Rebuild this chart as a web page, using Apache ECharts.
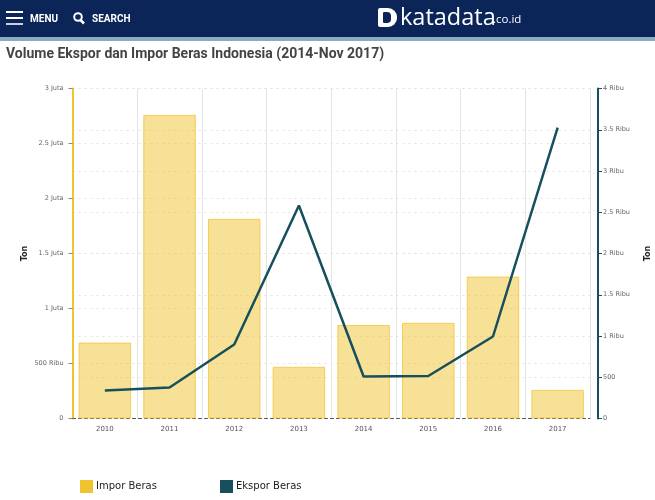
<!DOCTYPE html>
<html>
<head>
<meta charset="utf-8">
<script src="https://cdn.jsdelivr.net/npm/echarts@6/dist/echarts.min.js"></script>
<style>html,body{margin:0;padding:0;background:#fff}#c{width:655px;height:500px}</style>
</head>
<body>
<div id="c"></div>
<script>
const categories = ['2010','2011','2012','2013','2014','2015','2016','2017'];
const imporBeras = [690000,2760000,1815000,470000,850000,870000,1290000,260000];
const eksporBeras = [340,375,897,2582,509,515,994,3527];
const titleText = 'Volume Ekspor dan Impor Beras Indonesia (2014-Nov 2017)';
const seriesNames = ['Impor Beras','Ekspor Beras'];

function fmt(v){
  if(v===0) return '0';
  if(v>=1e6) return (v/1e6)+' Juta';
  if(v>=1e3) return (v/1e3)+' Ribu';
  return String(v);
}
const chart = echarts.init(document.getElementById('c'),null,{renderer:'canvas'});
const NAVY='#0b2559', GOLD='#f0c330', TEAL='#17505c';
const FF='"DejaVu Sans"';
const dash={color:'#e2e2e2',width:1,type:[2,4]};
const legendText={fontFamily:FF,fontSize:10,color:'#222',padding:[5,0,0,-2]};
chart.setOption({
  animation:false,
  backgroundColor:'#fff',
  grid:{left:72.5,right:65,top:88.5,bottom:81.5,containLabel:false,outerBoundsMode:'none'},
  legend:[
    {data:[{name:seriesNames[0],itemStyle:{color:GOLD,borderWidth:0,opacity:1}}],left:80,top:480,padding:0,itemWidth:13,itemHeight:13,icon:'rect',itemGap:4,textStyle:legendText},
    {data:[{name:seriesNames[1],itemStyle:{color:TEAL,borderWidth:0,opacity:1}}],left:220,top:480,padding:0,itemWidth:13,itemHeight:13,icon:'rect',itemGap:4,textStyle:legendText}
  ],
  xAxis:{type:'category',data:categories,boundaryGap:true,
    axisLine:{lineStyle:{color:'#555',width:1,type:[3,3]}},
    axisTick:{show:false},
    axisLabel:{fontFamily:FF,fontSize:7,color:'#555',margin:7},
    splitLine:{show:true,lineStyle:{color:'#e4e4e4',width:1}}
  },
  yAxis:[
    {type:'value',min:0,max:3000000,interval:500000,name:'Ton',nameLocation:'middle',nameGap:44,nameMoveOverlap:false,
     nameTextStyle:{fontFamily:FF,fontSize:8,fontWeight:'bold',color:'#222'},
     axisLine:{show:true,lineStyle:{color:GOLD,width:2}},
     axisTick:{show:true,length:4,lineStyle:{color:'#888',width:1}},
     axisLabel:{fontFamily:FF,fontSize:6.5,color:'#666',margin:9,formatter:fmt},
     splitLine:{show:true,lineStyle:dash}},
    {type:'value',min:0,max:4000,interval:500,position:'right',offset:8,name:'Ton',nameLocation:'middle',nameGap:46,nameMoveOverlap:false,
     nameTextStyle:{fontFamily:FF,fontSize:8,fontWeight:'bold',color:'#222'},
     axisLine:{show:true,lineStyle:{color:TEAL,width:2}},
     axisTick:{show:true,length:4,lineStyle:{color:TEAL,width:1}},
     axisLabel:{fontFamily:FF,fontSize:6.5,color:'#666',margin:5,formatter:fmt},
     splitLine:{show:true,lineStyle:dash}}
  ],
  series:[
    {name:seriesNames[0],type:'bar',yAxisIndex:0,data:imporBeras,barWidth:52.5,
     itemStyle:{color:'rgba(240,195,48,0.5)',borderColor:'rgba(240,195,48,0.75)',borderWidth:1},z:2},
    {name:seriesNames[1],type:'line',yAxisIndex:1,data:eksporBeras,showSymbol:false,symbol:'none',
     itemStyle:{color:TEAL},lineStyle:{color:TEAL,width:2.5},z:5}
  ],
  graphic:[
    {type:'rect',left:0,top:0,shape:{width:655,height:37},style:{fill:NAVY},silent:true},
    {type:'rect',left:0,top:37,shape:{width:655,height:4},style:{fill:'#8aacbf'},silent:true},
    {type:'rect',left:6,top:11,shape:{width:17,height:2},style:{fill:'#fff'}},
    {type:'rect',left:6,top:17,shape:{width:17,height:2},style:{fill:'#fff'}},
    {type:'rect',left:6,top:23,shape:{width:17,height:2},style:{fill:'#c8d0dd'}},
    {type:'text',left:30,top:14,style:{text:'MENU',font:'bold 10px Roboto',fill:'#fff'}},
    {type:'circle',x:78,y:17,shape:{cx:0,cy:0,r:3.8},style:{fill:'none',stroke:'#fff',lineWidth:2}},
    {type:'line',x:0,y:0,shape:{x1:80.5,y1:20,x2:84,y2:23.5},style:{stroke:'#fff',lineWidth:2.5}},
    {type:'text',left:92,top:14,style:{text:'SEARCH',font:'bold 10px Roboto',fill:'#fff'}},
    {type:'rect',left:378,top:8,shape:{width:19,height:19,r:[2,9,9,2]},style:{fill:'#fff'}},
    {type:'rect',left:383,top:12,shape:{width:8,height:11,r:[1,4,4,1]},style:{fill:NAVY}},
    {type:'text',left:400,top:6,style:{text:'katadata',font:'23.5px "Open Sans"',fill:'#fff'}},
    {type:'text',left:493,top:14,style:{text:'.co.id',font:'11.5px "Open Sans"',fill:'#fff'}},
    {type:'text',left:6,top:47,style:{text:titleText,font:'bold 14px Roboto',fill:'#444'}}
  ]
});
</script>
</body>
</html>
